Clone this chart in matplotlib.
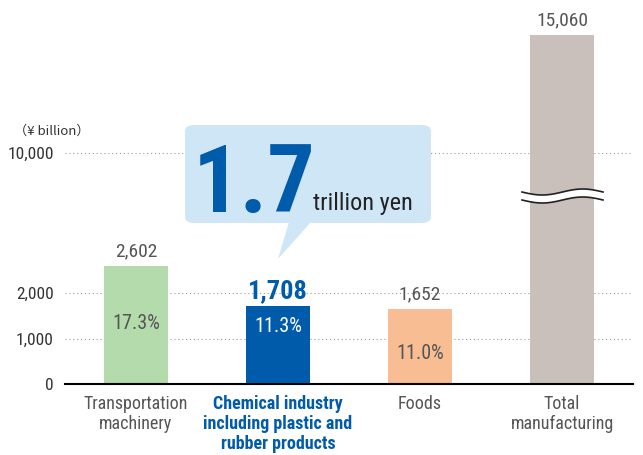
import numpy as np
import matplotlib
matplotlib.use("Agg")
import matplotlib.pyplot as plt
from matplotlib import font_manager
from matplotlib.patches import FancyBboxPatch, Polygon

# データ
categories = ["Transportation\nmachinery",
              "Chemical industry\nincluding plastic and\nrubber products",
              "Foods",
              "Total\nmanufacturing"]
values = [2602, 1708, 1652, 15060]
value_labels = ["2,602", "1,708", "1,652", "15,060"]
shares = ["17.3%", "11.3%", "11.0%", None]
colors = ["#b3dbab", "#005bab", "#f9bd94", "#c9c0bc"]
yticks = [0, 1000, 2000, 10000]
ytick_labels = ["0", "1,000", "2,000", "10,000"]

# フォント選択 (condensed があれば使う)
names = {f.name for f in font_manager.fontManager.ttflist}
cond = next((n for n in ["Roboto Condensed", "Liberation Sans Narrow", "DejaVu Sans Condensed"]
             if n in names), "Roboto")
plt.rcParams['font.family'] = [cond, 'DejaVu Sans']

GREY = "#555555"
BLUE = "#005bab"

# 軸の途中を圧縮するスケール
xp = [0, 3000, 10000, 30000]
fp = [0, 3.0, 5.08, 5.08 + 20 * 0.512]
fwd = lambda v: np.interp(v, xp, fp)
inv = lambda u: np.interp(u, fp, xp)

W, H = 643, 455
fig = plt.figure(figsize=(W / 100, H / 100), dpi=100)
ax = fig.add_axes([65 / W, (H - 384) / H, 568 / W, 364 / H])
ax.set_yscale('function', functions=(fwd, inv))
ax.set_xlim(-0.5, 3.5)
ax.set_ylim(0, inv(8.0))

x = np.arange(len(values))
ax.bar(x, values, width=0.45, color=colors, zorder=2)

for yv in yticks[1:]:
    ax.axhline(yv, color="#999999", lw=0.8, ls=(0, (1, 2.5)), zorder=1)

ax.set_yticks(yticks)
ax.set_yticklabels(ytick_labels, fontsize=12.5, color="#333333")
ax.tick_params(axis='y', length=0, pad=8)
ax.set_xticks([])
for s in ["left", "right", "top"]:
    ax.spines[s].set_visible(False)
ax.spines["bottom"].set_linewidth(1.5)
ax.spines["bottom"].set_zorder(3)

# 棒の上の値
for i, (v, lab) in enumerate(zip(values, value_labels)):
    if i == 1:
        ax.annotate(lab, (i, v), xytext=(0, 2), textcoords="offset points",
                    ha="center", va="bottom", fontsize=19, fontweight="bold", color=BLUE)
    else:
        ax.annotate(lab, (i, v), xytext=(0, 4), textcoords="offset points",
                    ha="center", va="bottom", fontsize=14, color=GREY)

# 比率
share_y = [1330, 1260, 680]
for i, s in enumerate(shares):
    if s is None:
        continue
    ax.text(i, share_y[i], s, ha="center", va="center", fontsize=14.5,
            color="white" if i == 1 else GREY, zorder=4)

# カテゴリ名
for i, c in enumerate(categories):
    ax.annotate(c, (i, 0), xytext=(0, -8), textcoords="offset points",
                ha="center", va="top", fontsize=13, linespacing=1.15,
                color=BLUE if i == 1 else GREY,
                fontweight="bold" if i == 1 else "normal", annotation_clip=False)

# 単位
fig.text(14 / W, (H - 131) / H, "（¥ billion）", fontsize=9.5, color="#333333",
         va="center", family=['Noto Sans CJK JP', 'DejaVu Sans'])

def P(px, py):
    return (px / W, (H - py) / H)

# 吹き出し
box = FancyBboxPatch(P(185, 223), 246 / W, 98 / H,
                     boxstyle="round,pad=0,rounding_size=0.014",
                     transform=fig.transFigure, fc="#cfe6f6", ec="none", zorder=5)
fig.add_artist(box)
tail = Polygon([P(289, 222), P(311, 222), P(278, 259)], closed=True,
               transform=fig.transFigure, fc="#cfe6f6", ec="none", zorder=5)
fig.add_artist(tail)
fig.text(*P(193, 212), "1.7", fontsize=68, fontweight="bold", color=BLUE,
         ha="left", va="baseline", zorder=6)
fig.text(*P(313, 210), "trillion yen", fontsize=17.5, color="#222222",
         ha="left", va="baseline", zorder=6)

# 波線 (軸の省略)
xs = np.linspace(522, 603, 60)
wave = 3 * np.sin((xs - 522) / 81 * 2 * np.pi)
top = 192 + wave
bot = 200 + wave
poly = Polygon([P(a, b) for a, b in zip(xs, top)] + [P(a, b) for a, b in zip(xs[::-1], bot[::-1])],
               closed=True, transform=fig.transFigure, fc="white", ec="none", zorder=6)
fig.add_artist(poly)
for yy in (top, bot):
    pts = np.array([P(a, b) for a, b in zip(xs, yy)])
    fig.add_artist(plt.Line2D(pts[:, 0], pts[:, 1], transform=fig.transFigure,
                              color="#222222", lw=1.2, zorder=7))

fig.savefig("out.png", dpi=100)
